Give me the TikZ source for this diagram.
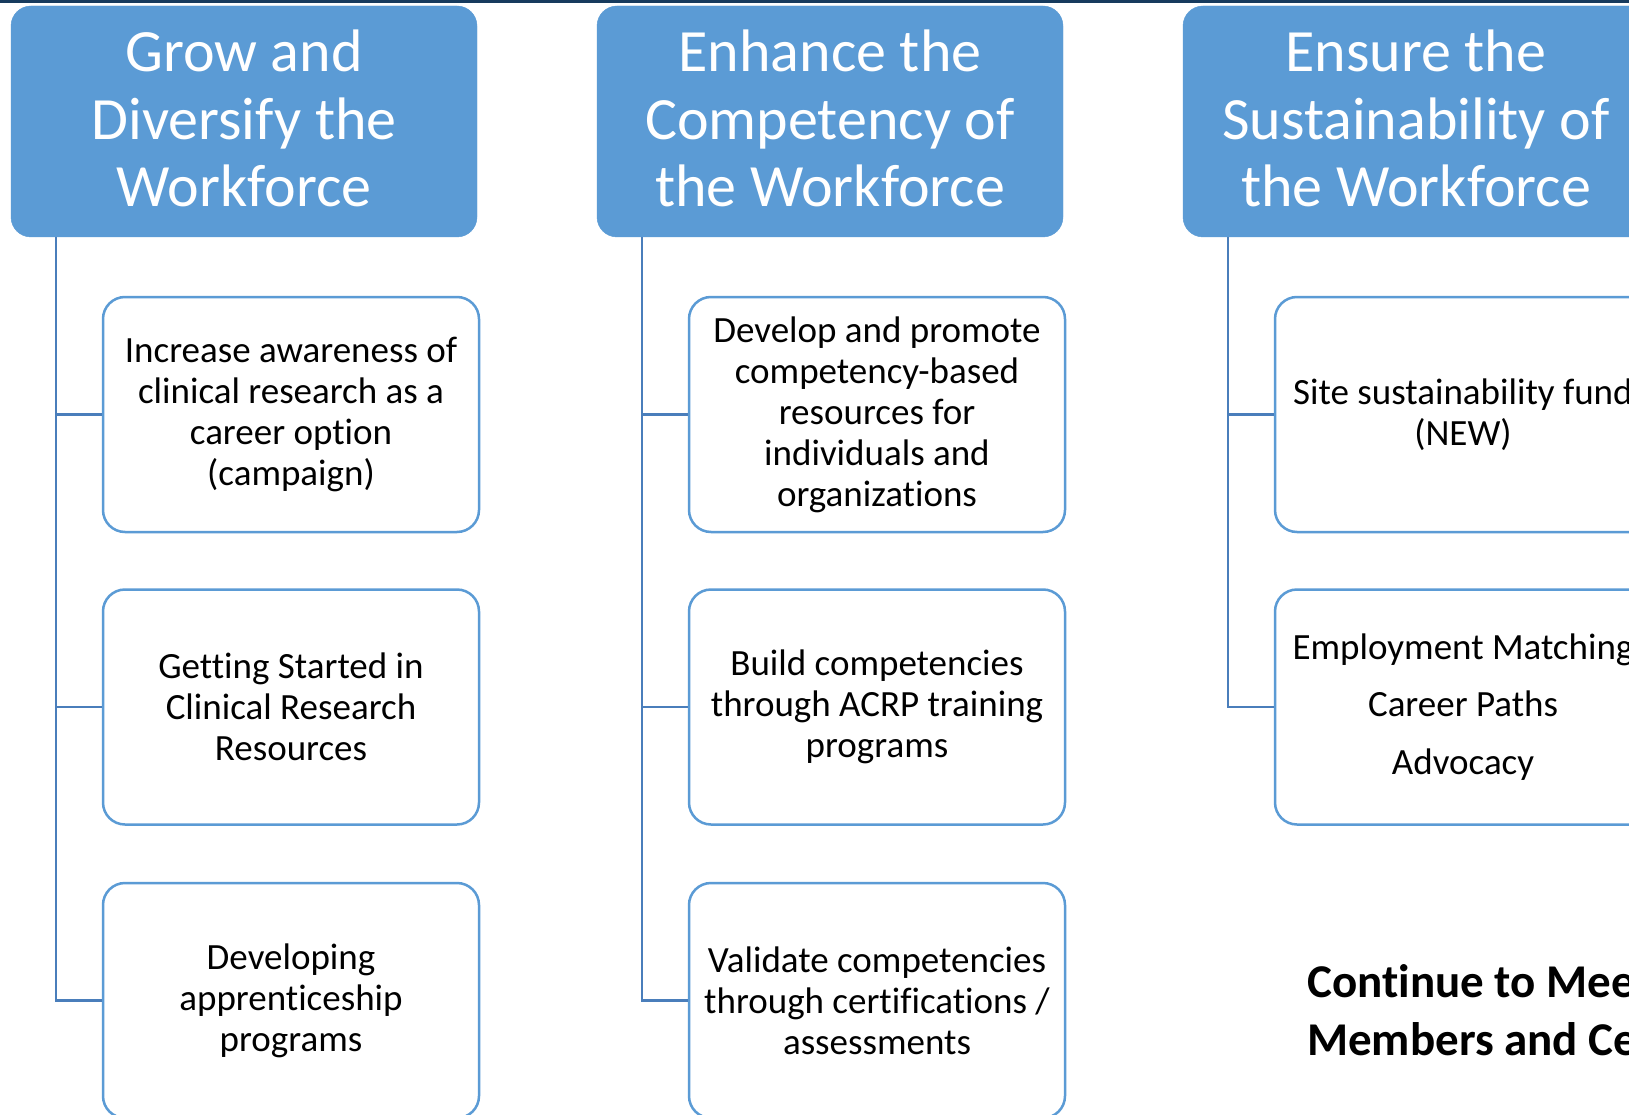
\documentclass[tikz,border=0pt]{standalone}
\usepackage{fontspec}
\setmainfont[Ligatures=NoCommon]{Carlito}
\usetikzlibrary{calc}
\definecolor{hdrblue}{HTML}{5B9BD5}
\definecolor{connblue}{HTML}{4A7EBB}
\definecolor{topnavy}{HTML}{173B5E}
\tikzset{
  hdr/.style={fill=hdrblue, draw=hdrblue, rounded corners=20pt, minimum width=466pt, minimum height=231pt,
    text=white, align=center, inner sep=0pt, text depth=6pt, font=\fontsize{60}{67.5}\selectfont},
  child/.style={draw=hdrblue, line width=2.5pt, fill=white, rounded corners=22pt, minimum width=376pt, minimum height=235pt,
    align=center, inner sep=0pt, font=\fontsize{37}{41}\selectfont},
  conn/.style={draw=connblue, line width=2.5pt},
  boldtxt/.style={anchor=base west, inner sep=0pt, font=\fontsize{47}{57}\selectfont\bfseries}
}
\begin{document}
\begin{tikzpicture}[x=1pt,y=-1pt]
\useasboundingbox (0,0) rectangle (1629,1115);
\clip (0,0) rectangle (1629,1115);
\fill[white] (0,0) rectangle (1629,1115);
\fill[topnavy] (0,0) rectangle (1629,3);

% headers
\node[hdr] (h1) at (244,121.5) {Grow and\\Diversify the\\Workforce};
\node[hdr] (h2) at (830,121.5) {Enhance the\\Competency of\\the Workforce};
\node[hdr] (h3) at (1416,121.5) {Ensure the\\Sustainability of\\the Workforce};

% children column 1
\node[child] (c11) at (291,414.5) {Increase awareness of\\clinical research as a\\career option\\(campaign)};
\node[child] (c12) at (291,707) {Getting Started in\\Clinical Research\\Resources};
\node[child] (c13) at (291,1000.5) {Developing\\apprenticeship\\programs};

% children column 2
\node[child] (c21) at (877,414.5) {Develop and promote\\competency-based\\resources for\\individuals and\\organizations};
\node[child] (c22) at (877,707) {Build competencies\\through ACRP training\\programs};
\node[child] (c23) at (877,1000.5) {Validate competencies\\through certifications /\\assessments};

% children column 3
\node[child] (c31) at (1463,414.5) {Site sustainability fund\\(NEW)};
\node[child, font=\fontsize{37}{57.5}\selectfont] (c32) at (1463,707) {Employment Matching\\Career Paths\\Advocacy};

% bold text
\node[boldtxt] (t1) at (1307,997) {Continue to Meet};
\node[boldtxt] (t2) at (1307,1055) {Members and Ce};

% connectors
\coordinate (v1) at ($(h1.south west)+(45,0)$);
\coordinate (v2) at ($(h2.south west)+(45,0)$);
\coordinate (v3) at ($(h3.south west)+(45,0)$);
\draw[conn] (v1) |- (c13.west);
\draw[conn] (c11.west) -- (c11.west -| v1);
\draw[conn] (c12.west) -- (c12.west -| v1);
\draw[conn] (v2) |- (c23.west);
\draw[conn] (c21.west) -- (c21.west -| v2);
\draw[conn] (c22.west) -- (c22.west -| v2);
\draw[conn] (v3) |- (c32.west);
\draw[conn] (c31.west) -- (c31.west -| v3);
\end{tikzpicture}
\end{document}
